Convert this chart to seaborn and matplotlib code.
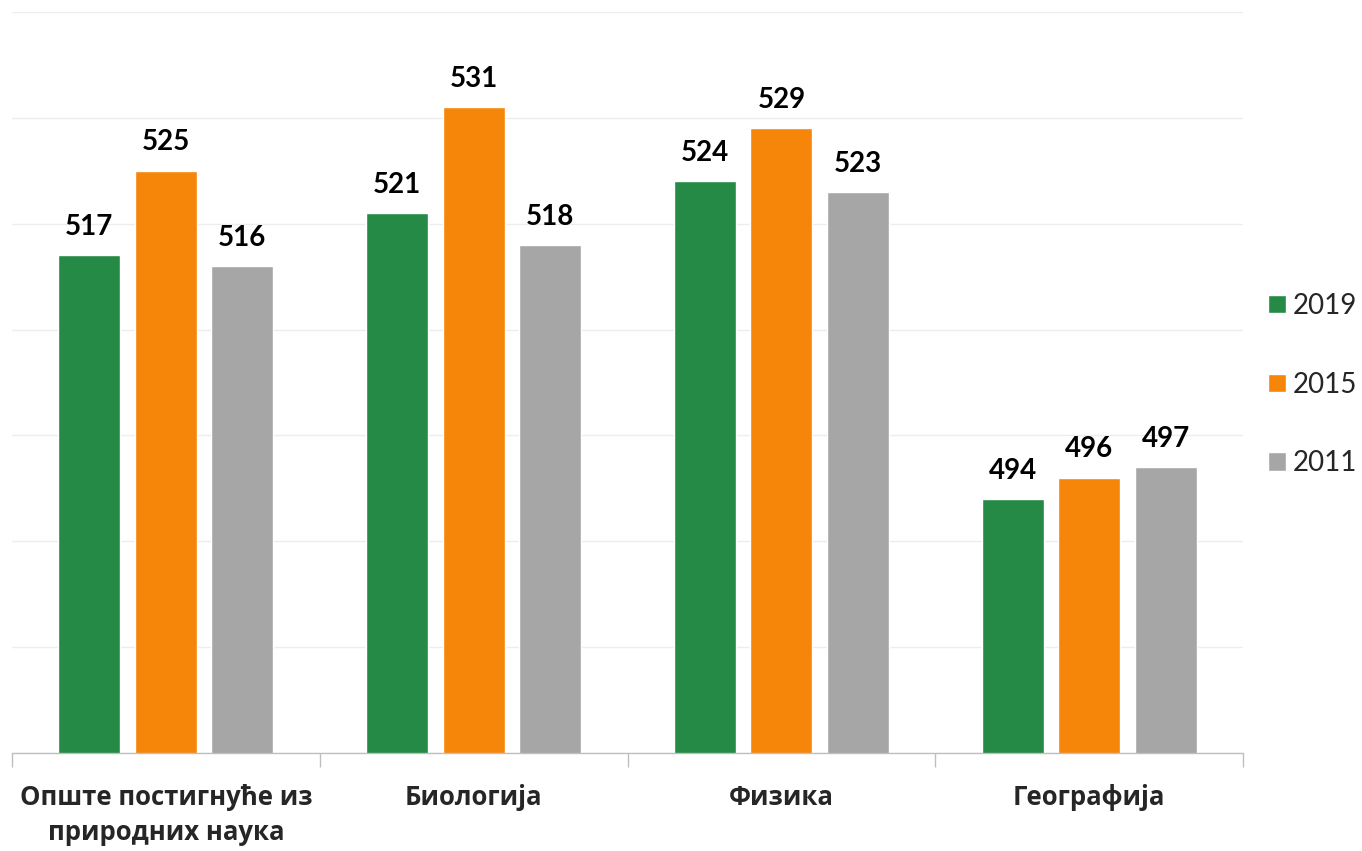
import matplotlib
matplotlib.use("Agg")
import matplotlib.pyplot as plt
import seaborn as sns
import pandas as pd
from matplotlib.ticker import MultipleLocator, FixedLocator

categories = ["Опште постигнуће из\nприродних наука", "Биологија", "Физика", "Географија"]
years = ["2019", "2015", "2011"]
v2019 = [517, 521, 524, 494]
v2015 = [525, 531, 529, 496]
v2011 = [516, 518, 523, 497]
colors = ["#258A45", "#F5860A", "#A6A6A6"]

rows = []
for yr, vals in zip(years, [v2019, v2015, v2011]):
    for c, v in zip(categories, vals):
        rows.append({"cat": c, "year": yr, "val": v})
df = pd.DataFrame(rows)

sns.set_theme(style="white")
plt.rcParams['font.family'] = ['Open Sans', 'DejaVu Sans']
digit_font = ['Lato', 'Open Sans', 'DejaVu Sans']

fig = plt.figure(figsize=(13.62, 8.51), dpi=100)
ax = fig.add_axes([0.0088, 0.1152, 0.9039, 0.8707])

sns.barplot(data=df, x="cat", y="val", hue="year", hue_order=years, order=categories,
            palette=colors, width=0.745, gap=0.19, ax=ax, saturation=1, legend=True)

ax.set_ylim(470, 540)
ax.set_xlim(-0.5, 3.5)
ax.yaxis.set_major_locator(MultipleLocator(10))
ax.grid(axis="y", color="#EDEDED", linewidth=1)
ax.set_axisbelow(True)
ax.set_yticklabels([])
ax.tick_params(axis="y", length=0)
for s in ["top", "right", "left"]:
    ax.spines[s].set_visible(False)
ax.spines["bottom"].set_color("#BFBFBF")
ax.spines["bottom"].set_linewidth(1)
ax.set_xlabel("")
ax.set_ylabel("")

ax.xaxis.set_minor_locator(FixedLocator([-0.5, 0.5, 1.5, 2.5, 3.5]))
ax.tick_params(axis="x", which="minor", length=10, color="#BFBFBF", width=1, bottom=True)
ax.tick_params(axis="x", which="major", length=0, pad=22)
for lbl in ax.get_xticklabels():
    lbl.set_fontsize(18.5)
    lbl.set_fontweight("bold")
    lbl.set_va("top")
    lbl.set_linespacing(1.4)

for cont in ax.containers:
    ax.bar_label(cont, fmt="%d", padding=11, fontsize=20, fontweight="bold",
                 color="black", family=digit_font)

handles, labels = ax.get_legend_handles_labels()
ax.get_legend().remove()
fig.legend(handles, labels, loc="center left", bbox_to_anchor=(0.923, 0.548), frameon=False,
           prop={"family": digit_font, "size": 20}, labelspacing=1.9,
           handlelength=0.65, handleheight=0.65, handletextpad=0.25, borderaxespad=0)

fig.savefig("out.png", dpi=100, facecolor="white")
